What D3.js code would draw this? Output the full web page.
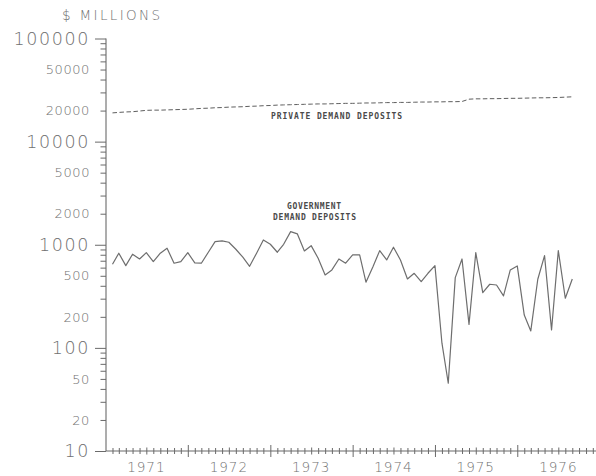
<!DOCTYPE html>
<html>
<head>
<meta charset="utf-8">
<script src="https://cdn.jsdelivr.net/npm/d3@7/dist/d3.min.js"></script>
<style>
  html, body { margin: 0; padding: 0; background: #fff; }
  svg { display: block; }
</style>
</head>
<body>
<svg id="chart" width="596" height="476"></svg>
<script>
// ---- data (monthly, Feb 1971 – Sep 1976), $ millions ----
const startYear = 1971, startMonth = 1; // Feb 1971 (0-based month)
const government = [
  647, 828, 627, 809, 728, 838, 686, 828, 925, 662, 686,
  838, 666, 662, 846, 1072, 1089, 1057, 904, 757, 618, 828, 1113, 1011,
  846, 1011, 1340, 1273, 871, 980, 740, 509, 570, 728, 662, 796,
  796, 433, 613, 877, 712, 946, 712, 466, 529, 439, 529, 627,
  111, 45.4, 480, 728, 169, 838, 343, 414, 407, 319, 570, 623,
  208, 146, 463, 784, 149, 877, 303, 466
];
const privateDep = [
  19000, 19200, 19400, 19500, 19800, 20100, 20200, 20200, 20300, 20400, 20500,
  20600, 20800, 21000, 21100, 21300, 21400, 21600, 21700, 21800, 22000, 22100, 22300,
  22400, 22600, 22700, 22800, 22900, 23000, 23100, 23200, 23200, 23300, 23400, 23500,
  23500, 23600, 23700, 23700, 23800, 23900, 23900, 24000, 24000, 24100, 24200, 24200,
  24300, 24300, 24400, 24400, 24500, 25800, 26000, 26000, 26100, 26100, 26200, 26300,
  26300, 26400, 26500, 26600, 26600, 26700, 26800, 27000, 27200
];
const yearLabels = [1971, 1972, 1973, 1974, 1975, 1976];
const decadeTicks = [10, 100, 1000, 10000, 100000];
const labeledTicks = [10, 20, 50, 100, 200, 500, 1000, 2000, 5000, 10000, 20000, 50000, 100000];
const yTitle = "$ MILLIONS";
const privateLabel = "PRIVATE DEMAND DEPOSITS";
const govLabel = ["GOVERNMENT", "DEMAND DEPOSITS"];

// ---- scales ----
const svg = d3.select("#chart");
const ink = "#6a6a6a";
const textInk = "#707070";
const x = d3.scaleTime()
  .domain([new Date(1971, 0, 1), new Date(1977, 0, 1)])
  .range([105.5, 599.8]);
const y = d3.scaleLog().domain([10, 100000]).range([451, 38.5]);

const dates = government.map((_, i) => new Date(startYear, startMonth + i, 1));

// ---- y axis ----
const allYTicks = [];
for (const d of [10, 100, 1000, 10000]) for (let m = 1; m < 10; m++) allYTicks.push(d * m);
allYTicks.push(100000);

const yAxis = d3.axisLeft(y)
  .tickValues(allYTicks)
  .tickSize(6)
  .tickPadding(0)
  .tickFormat(v => labeledTicks.includes(v) ? String(v) : "");
const gy = svg.append("g").attr("transform", "translate(106,0)").call(yAxis);
gy.select(".domain").attr("d", `M0,${y(100000)}V${y(10)}`).attr("stroke", ink).attr("stroke-width", 1.1);
gy.selectAll(".tick line")
  .attr("stroke", ink).attr("stroke-width", 1)
  .attr("x2", v => decadeTicks.includes(v) ? -11 : -5.5);
gy.selectAll(".tick text")
  .attr("x", -16)
  .attr("fill", textInk)
  .style("font-family", "'DejaVu Sans', sans-serif")
  .style("font-weight", 200)
  .style("font-size", v => decadeTicks.includes(v) ? "17.5px" : "13px")
  .style("letter-spacing", v => decadeTicks.includes(v) ? "1.6px" : "0.6px");

// ---- x axis ----
const monthTicks = d3.timeMonth.range(new Date(1971, 0, 1), new Date(1977, 0, 2));
const xAxis = d3.axisBottom(x).tickValues(monthTicks).tickSize(3).tickFormat("");
const gx = svg.append("g").attr("transform", "translate(0,451)").call(xAxis);
gx.select(".domain").attr("d", `M106,0H596`).attr("stroke", ink).attr("stroke-width", 1.1);
gx.selectAll(".tick line")
  .attr("stroke", ink).attr("stroke-width", 1)
  .attr("y1", d => d.getMonth() === 0 ? -6 : (d.getMonth() === 6 ? -3.5 : -3))
  .attr("y2", d => d.getMonth() === 0 ? 6 : (d.getMonth() === 6 ? 3.5 : 3));
gx.selectAll(".tick").filter(d => d.getFullYear() === 1971 && d.getMonth() === 0).remove();

svg.append("g").selectAll("text").data(yearLabels).join("text")
  .attr("x", d => x(new Date(d, 6, 1)))
  .attr("y", 472)
  .attr("text-anchor", "middle")
  .attr("fill", textInk)
  .style("font-family", "'DejaVu Sans', sans-serif")
  .style("font-weight", 200)
  .style("font-size", "13.5px")
  .style("letter-spacing", "1px")
  .text(d => d);

// ---- y title ----
svg.append("text")
  .attr("x", 62).attr("y", 20)
  .attr("fill", textInk)
  .style("font-family", "'DejaVu Sans', sans-serif")
  .style("font-weight", 200)
  .style("font-size", "13.5px")
  .attr("textLength", 98)
  .text(yTitle);

// ---- lines ----
const line = d3.line().x((d, i) => x(dates[i])).y(d => y(d));

svg.append("path")
  .datum(privateDep)
  .attr("d", line)
  .attr("fill", "none")
  .attr("stroke", "#5e5e5e")
  .attr("stroke-width", 1)
  .attr("stroke-dasharray", "4.5,2.5");

svg.append("path")
  .datum(government)
  .attr("d", line)
  .attr("fill", "none")
  .attr("stroke", "#6e6e6e")
  .attr("stroke-width", 1.2)
  .attr("stroke-linejoin", "round");

// ---- series labels ----
const lblStyle = sel => sel
  .attr("fill", "#4a4a4a")
  .style("font-family", "'DejaVu Sans Mono', monospace")
  .style("font-weight", "bold")
  .style("font-size", "8px");

svg.append("text").attr("x", 271).attr("y", 118.5)
  .attr("textLength", 131).call(lblStyle).text(privateLabel);
svg.append("text").attr("x", 287).attr("y", 209)
  .attr("textLength", 54).call(lblStyle).text(govLabel[0]);
svg.append("text").attr("x", 273).attr("y", 219.5)
  .attr("textLength", 83).call(lblStyle).text(govLabel[1]);
</script>
</body>
</html>
